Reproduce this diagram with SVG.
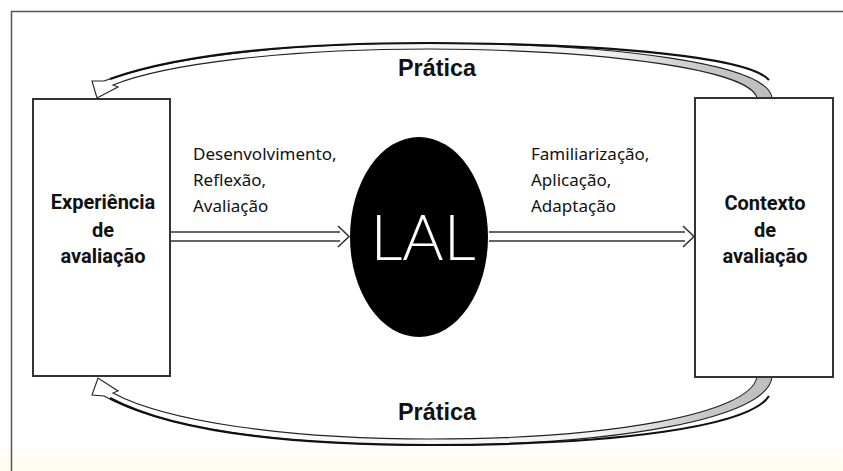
<svg xmlns="http://www.w3.org/2000/svg" width="843" height="471" viewBox="0 0 843 471">
<style>
.box{fill:#fff;stroke:#333;stroke-width:2}
.lbl{font-family:"Noto Sans","Open Sans",sans-serif;font-size:17px;fill:#111}
.blbl{font-family:Roboto,"Noto Sans",sans-serif;font-weight:700;font-size:20px;fill:#111;text-anchor:middle}
.prat{font-family:"Liberation Sans",Arial,sans-serif;font-weight:700;font-size:23px;fill:#111}
.shaft{fill:none;stroke:#333;stroke-width:1.6}
.rib{stroke:#222;stroke-width:1.1}
.edge{fill:none;stroke:#111;stroke-width:2.2}
</style>
<defs>
<linearGradient id="gr" x1="0" x2="1" y1="0" y2="0">
<stop offset="0" stop-color="#fff"/>
<stop offset="0.75" stop-color="#f2f2f2"/>
<stop offset="0.9" stop-color="#c8c8c8"/>
<stop offset="1" stop-color="#bdbdbd"/>
</linearGradient>
<linearGradient id="cream" x1="0" x2="0" y1="0" y2="1">
<stop offset="0" stop-color="#fff"/>
<stop offset="1" stop-color="#fffbef"/>
</linearGradient>
</defs>
<rect width="843" height="471" fill="#fff"/>
<rect x="0" y="445" width="843" height="26" fill="url(#cream)"/>
<path d="M11.5 471 V11.5 H843" fill="none" stroke="#555" stroke-width="1.5"/>

<g id="connectors">
<g id="arc-top">
<path class="rib" fill="url(#gr)" d="M772 98 C768 64 620 44 430 43 C280 43 165 58 104 81 L92 81 L97 98 L118 87 L113 85 C165 64 285 49 430 49 C610 50 750 70 757 98 Z"/>
<path class="edge" d="M769 80 C750 58 620 44 430 43 C280 43 175 56 110 79"/>
</g>
<g id="arc-bottom">
<path class="rib" fill="url(#gr)" d="M772 377 C768 418 620 445 430 445 C280 445 160 428 104 396 L92 395 L98 378 L118 391 L113 393 C165 421 285 439 430 439 C610 439 750 414 757 377 Z"/>
<path class="edge" d="M769 396 C750 426 620 445 430 445 C280 445 170 430 110 398"/>
</g>
<g id="arrow-left">
<path class="shaft" d="M170 232 H340 M170 241 H340 M338 226 L349 236.5 L338 247"/>
</g>
<g id="arrow-right">
<path class="shaft" d="M489 232 H685 M489 241 H685 M683 226 L694 236.5 L683 247"/>
</g>
</g>

<g id="node-experiencia">
<rect class="box" x="33" y="99" width="137" height="277"/>
<text class="blbl" x="103" y="209">Experiência</text>
<text class="blbl" x="103" y="237">de</text>
<text class="blbl" x="103" y="263">avaliação</text>
</g>

<g id="node-contexto">
<rect class="box" x="695" y="98" width="138" height="279"/>
<text class="blbl" x="765" y="210">Contexto</text>
<text class="blbl" x="765" y="237">de</text>
<text class="blbl" x="765" y="263">avaliação</text>
</g>

<g id="node-lal">
<ellipse cx="419" cy="237" rx="69" ry="100" fill="#000"/>
<text x="423" y="260" text-anchor="middle" font-family="Lato,'Open Sans',sans-serif" font-weight="300" font-size="63" fill="#fff">LAL</text>
</g>

<g id="labels">
<text class="lbl" x="193" y="160">Desenvolvimento,</text>
<text class="lbl" x="193" y="186">Reflexão,</text>
<text class="lbl" x="193" y="212">Avaliação</text>
<text class="lbl" x="531" y="160">Familiarização,</text>
<text class="lbl" x="531" y="186">Aplicação,</text>
<text class="lbl" x="531" y="212">Adaptação</text>
<text class="prat" x="398" y="76" textLength="78" lengthAdjust="spacingAndGlyphs">Prática</text>
<text class="prat" x="398" y="420" textLength="78" lengthAdjust="spacingAndGlyphs">Prática</text>
</g>
</svg>
